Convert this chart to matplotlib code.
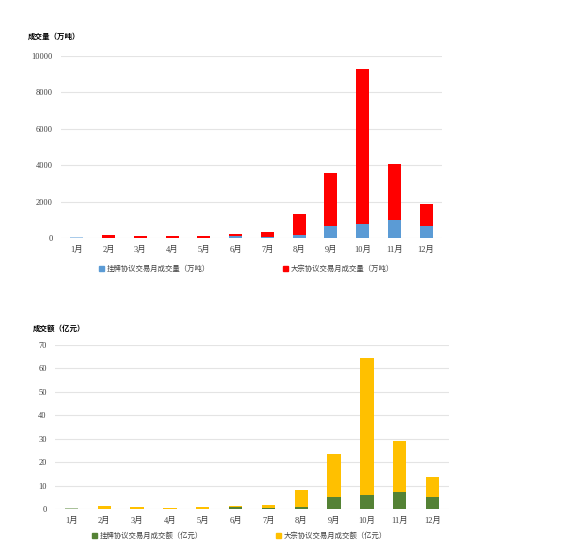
import numpy as np
import matplotlib.pyplot as plt

plt.rcParams['font.family'] = ['Liberation Serif', 'Noto Sans CJK SC', 'DejaVu Sans']

# 数据
meses = ["1月", "2月", "3月", "4月", "5月", "6月", "7月", "8月", "9月", "10月", "11月", "12月"]
gp_volume = [80, 20, 10, 10, 10, 110, 60, 150, 660, 750, 970, 660]
dz_volume = [0, 170, 120, 90, 120, 130, 250, 1190, 2910, 8560, 3070, 1190]
gp_amount = [0.5, 0.1, 0.05, 0.05, 0.05, 0.7, 0.5, 0.9, 5.0, 6.1, 7.1, 5.0]
dz_amount = [0, 1.1, 0.65, 0.45, 0.65, 0.6, 1.2, 7.4, 18.3, 58.2, 21.8, 8.5]
ticks_volume = [0, 2000, 4000, 6000, 8000, 10000]
ticks_amount = [0, 10, 20, 30, 40, 50, 60, 70]

W, H = 562, 552
fig = plt.figure(figsize=(W / 100, H / 100), dpi=100)

text_color = "#404040"
grid_color = "#e4e4e4"
x = np.arange(len(meses))


def painel(rect, baixo, cima, cor_baixo, cor_baixo_clara, cor_cima, ticks, titulo, tpos, leg_baixo, leg_cima, legy, legx):
    ax = fig.add_axes([rect[0] / W, 1 - rect[3] / H, (rect[2] - rect[0]) / W, (rect[3] - rect[1]) / H])
    cores = [cor_baixo_clara] + [cor_baixo] * (len(meses) - 1)
    ax.bar(x, baixo, width=0.41, color=cores, zorder=3)
    ax.bar(x, cima, width=0.41, bottom=baixo, color=cor_cima, zorder=3)
    ax.set_xlim(-0.5, len(meses) - 0.5)
    ax.set_ylim(0, ticks[-1])
    ax.set_yticks(ticks)
    ax.set_yticklabels([str(t) for t in ticks])
    ax.set_xticks(x)
    ax.set_xticklabels(meses)
    ax.yaxis.grid(True, color=grid_color, linewidth=0.8, zorder=0)
    for s in ax.spines.values():
        s.set_visible(False)
    ax.tick_params(length=0, labelsize=6, colors=text_color, pad=6)
    fig.text(tpos[0] / W, 1 - tpos[1] / H, titulo, fontsize=5.4, fontweight="bold",
             color="black", va="center", ha="left")
    # legenda manual
    for xx, cor, txt in [(legx[0], cor_baixo, leg_baixo), (legx[1], cor_cima, leg_cima)]:
        fig.patches.append(plt.Rectangle((xx / W, 1 - (legy + 3) / H), 5 / W, 5 / H,
                                         transform=fig.transFigure, color=cor, figure=fig))
        fig.text((xx + 8) / W, 1 - legy / H, txt, fontsize=5.3, color=text_color,
                 va="center", ha="left")
    return ax


painel((61, 56, 442, 238), gp_volume, dz_volume, "#5B9BD5", "#A9CBEA", "#FF0000",
       ticks_volume, "成交量（万吨）", (28, 36),
       "挂牌协议交易月成交量（万吨）", "大宗协议交易月成交量（万吨）", 268, (99, 283))

painel((55, 345, 449, 509), gp_amount, dz_amount, "#548235", "#A9C19A", "#FFC000",
       ticks_amount, "成交额（亿元）", (33, 328),
       "挂牌协议交易月成交额（亿元）", "大宗协议交易月成交额（亿元）", 535, (92, 276))

fig.savefig("out.png", dpi=100)
